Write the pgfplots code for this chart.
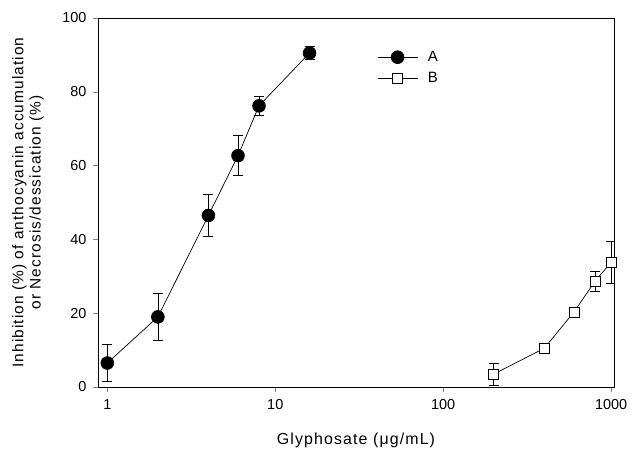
\documentclass[border=0pt]{standalone}
\usepackage{pgfplots}
\pgfplotsset{compat=1.18}
\usepackage{fontspec}
\setmainfont{Liberation Sans}
\newfontfamily\labelfont{Liberation Sans}[LetterSpace=7]
\begin{document}
\begin{tikzpicture}
\begin{axis}[
  name=ax,
  scale only axis,
  width=516bp, height=369bp,
  xmode=log,
  xmin=0.88, xmax=1040,
  ymin=0, ymax=100,
  xtick={1,10,100,1000},
  xticklabels={1,10,100,1000},
  xminorticks=false,
  ytick={0,20,40,60,80,100},
  xtick pos=left, ytick pos=left,
  tick align=outside,
  major tick length=5bp,
  tick label style={font=\fontsize{14.5}{16}\selectfont},
  xticklabel style={yshift=-4bp},
  yticklabel style={xshift=-3bp},
  /pgf/number format/assume math mode=true,
  xlabel={Glyphosate (μg/mL)},
  xlabel style={font=\labelfont\fontsize{16}{18}\selectfont, at={(axis description cs:0.5,-0.1436)}, anchor=center},
  ylabel={Inhibition (\%) of anthocyanin accumulation\\or Necrosis/dessication (\%)},
  ylabel style={align=center, font=\labelfont\fontsize{15.5}{17.5}\selectfont,
    at={(axis description cs:-0.1357,0.5)}, anchor=center},
  axis line style={line width=0.8pt},
  legend style={draw=none, fill=none, at={(0.535,0.921)}, anchor=north west,
    font=\fontsize{15}{17}\selectfont, row sep=5bp},
  legend cell align=left,
  legend image code/.code={\draw[mark repeat=2,mark phase=2,#1] plot coordinates {(0bp,0bp)(20bp,0bp)(40bp,0bp)}; \path (48bp,0bp);},
]
\addplot+[black, line width=0.7pt, mark=*, mark size=6.4bp, mark options={fill=black, solid},
  error bars/.cd, y dir=both, y explicit,
  error mark options={rotate=90, mark size=5bp, line width=0.7pt},
  error bar style={line width=0.7pt}]
  coordinates {
  (1,6.5) +- (0,5)
  (2,19) +- (0,6.3)
  (4,46.5) +- (0,5.7)
  (6,62.7) +- (0,5.4)
  (8,76.2) +- (0,2.5)
  (16,90.5) +- (0,1.8)
};
\addlegendentry{A}
\addplot+[black, line width=0.7pt, mark=square*, mark size=5bp, mark options={fill=white, solid},
  error bars/.cd, y dir=both, y explicit,
  error mark options={rotate=90, mark size=5bp, line width=0.7pt},
  error bar style={line width=0.7pt}]
  coordinates {
  (200,3.5) +- (0,3)
  (400,10.5) +- (0,0)
  (600,20.3) +- (0,0)
  (800,28.6) +- (0,2.7)
  (1000,33.8) +- (0,5.7)
};
\addlegendentry{B}
\end{axis}
\pgfresetboundingbox
\path ([shift={(-98bp,-64bp)}]ax.south west) rectangle ([shift={(25bp,18bp)}]ax.north east);
\end{tikzpicture}
\end{document}
